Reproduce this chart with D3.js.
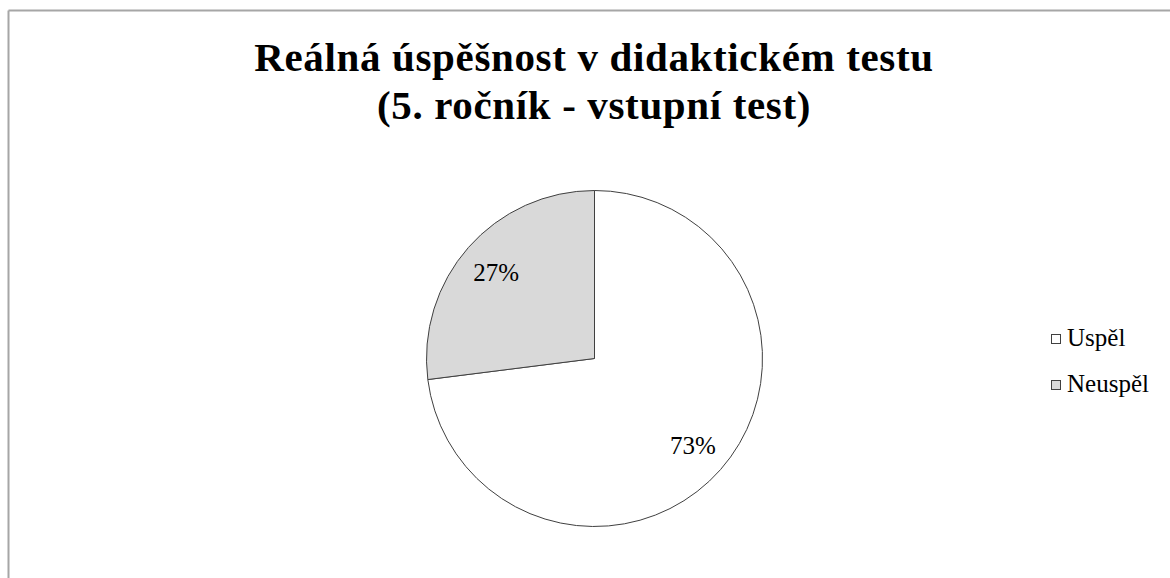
<!DOCTYPE html>
<html>
<head>
<meta charset="utf-8">
<script src="https://cdn.jsdelivr.net/npm/d3@7"></script>
<style>
  body { margin: 0; background: #fff; }
  svg { display: block; }
</style>
</head>
<body>
<svg width="1170" height="578"></svg>
<script>
// data for the chart
var categories = ['Uspěl', 'Neuspěl'];
var values = [73, 27];
var sliceColors = ['#ffffff', '#d9d9d9'];
var titleLines = ['Reálná úspěšnost v didaktickém testu', '(5. ročník - vstupní test)'];

var svg = d3.select('svg');
var serifFont = 'Liberation Serif';

// frame of the chart area (only top and left visible)
svg.append('line')
    .attr('x1', 8.5).attr('y1', 10.5).attr('x2', 1170).attr('y2', 10.5)
    .attr('stroke', '#a6a6a6').attr('stroke-width', 2);
svg.append('line')
    .attr('x1', 8.5).attr('y1', 10.5).attr('x2', 8.5).attr('y2', 578)
    .attr('stroke', '#a6a6a6').attr('stroke-width', 2);

// title
svg.append('text')
    .attr('x', 594).attr('y', 71)
    .attr('text-anchor', 'middle')
    .style('font-family', serifFont)
    .style('font-weight', 'bold')
    .style('font-size', '41px')
    .style('letter-spacing', '0.65px')
    .selectAll('tspan')
    .data(titleLines)
    .enter().append('tspan')
    .attr('x', 594)
    .attr('dy', function(d, i) { return i === 0 ? 0 : 48; })
    .text(function(d) { return d; });

// pie
var radius = 168;
var pieG = svg.append('g').attr('transform', 'translate(594.5,358.5)');

var pie = d3.pie().sort(null).value(function(d) { return d; });
var arc = d3.arc().innerRadius(0).outerRadius(radius);
var labelArc = d3.arc().innerRadius(radius * 0.78).outerRadius(radius * 0.78);
var color = d3.scaleOrdinal().domain(categories).range(sliceColors);

var arcs = pie(values);
var total = d3.sum(values);

pieG.selectAll('path')
    .data(arcs)
    .enter().append('path')
    .attr('d', arc)
    .attr('fill', function(d, i) { return color(categories[i]); })
    .attr('stroke', '#404040')
    .attr('stroke-width', 1);

pieG.selectAll('.label')
    .data(arcs)
    .enter().append('text')
    .attr('class', 'label')
    .attr('transform', function(d) { return 'translate(' + labelArc.centroid(d) + ')'; })
    .attr('text-anchor', 'middle')
    .attr('dy', '0.35em')
    .style('font-family', serifFont)
    .style('font-size', '25px')
    .text(function(d) { return Math.round(d.value / total * 100) + '%'; });

// legend
var legend = svg.append('g').attr('transform', 'translate(1051,334)');
var item = legend.selectAll('g')
    .data(categories)
    .enter().append('g')
    .attr('transform', function(d, i) { return 'translate(0,' + i * 46 + ')'; });

item.append('rect')
    .attr('x', 0.5).attr('y', 0.5)
    .attr('width', 9).attr('height', 9)
    .attr('fill', function(d) { return color(d); })
    .attr('stroke', '#404040')
    .attr('stroke-width', 1);

item.append('text')
    .attr('x', 16).attr('y', 12)
    .style('font-family', serifFont)
    .style('font-size', '25px')
    .text(function(d) { return d; });
</script>
</body>
</html>
